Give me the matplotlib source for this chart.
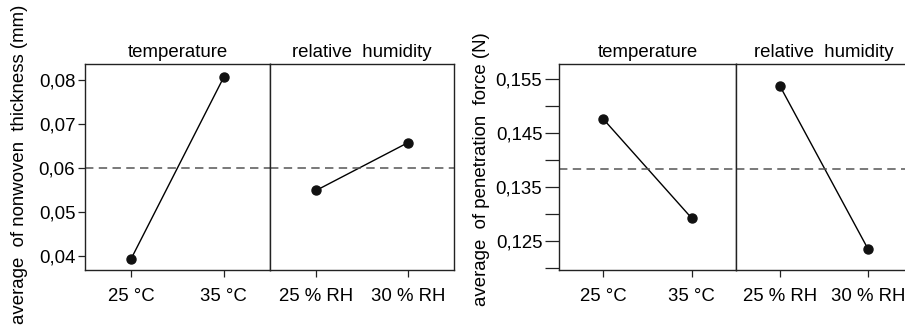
import numpy as np
import matplotlib.pyplot as plt
from matplotlib.ticker import FixedLocator, FuncFormatter

plt.rcParams['font.family'] = ['Liberation Sans', 'DejaVu Sans']

# factor levels
temp_levels = ['25 °C', '35 °C']
rh_levels = ['25 % RH', '30 % RH']

# main effects: nonwoven thickness (mm)
thick_temp = [0.0394, 0.0807]
thick_rh = [0.0549, 0.0658]
thick_mean = 0.0600

# main effects: penetration force (N)
force_temp = [0.1476, 0.1292]
force_rh = [0.1537, 0.1235]
force_mean = 0.1384

W, H = 905, 333
FS = 13.4


def comma(v, pos, nd):
    return ('%.*f' % (nd, v)).replace('.', ',')


def effects_plot(fig, x0, xmid, x1, series, levels, mean, ylim, ticks, labelled, nd,
                 ylabel, ylab_x, ylab_y, ytick_len):
    y0, y1 = 64, 270
    bottom = 1 - y1 / H
    height = (y1 - y0) / H
    axl = fig.add_axes([x0 / W, bottom, (xmid - x0) / W, height])
    axr = fig.add_axes([xmid / W, bottom, (x1 - xmid) / W, height], sharey=axl)
    for ax, vals, labs, title in zip([axl, axr], series, levels,
                                     ['temperature', 'relative  humidity']):
        ax.plot([0, 1], vals, color='black', lw=1.0, marker='o', ms=6.5, mfc='#111111', mec='#111111')
        ax.axhline(mean, color='#555555', lw=1.1, ls=(0, (5.5, 3.5)))
        ax.set_xlim(-0.5, 1.5)
        ax.set_xticks([0, 1])
        ax.set_xticklabels(labs, fontsize=FS)
        ax.set_title(title, fontsize=FS, pad=5)
        for s in ax.spines.values():
            s.set_color('#222222')
            s.set_linewidth(1.0)
        ax.tick_params(axis='x', length=5, width=0.9, pad=8, color='#222222')
    axl.set_ylim(*ylim)
    axl.yaxis.set_major_locator(FixedLocator(ticks))
    axl.yaxis.set_major_formatter(FuncFormatter(
        lambda v, p: comma(v, p, nd) if any(abs(v - t) < 1e-9 for t in labelled) else ''))
    axl.tick_params(axis='y', length=ytick_len, width=0.9, labelsize=FS, pad=2, color='#222222')
    axr.tick_params(axis='y', left=False, labelleft=False)
    fig.text(ylab_x / W, 1 - ylab_y / H, ylabel, rotation=90, ha='center', va='center', fontsize=FS)


fig = plt.figure(figsize=(W / 100, H / 100), dpi=100)

effects_plot(fig, 85, 270, 454, [thick_temp, thick_rh], [temp_levels, rh_levels], thick_mean,
             (0.0368, 0.0837), [0.04, 0.05, 0.06, 0.07, 0.08],
             [0.04, 0.05, 0.06, 0.07, 0.08], 2,
             'average  of nonwoven  thickness (mm)', 20, 164, 5)

force_ticks = [0.120, 0.125, 0.130, 0.135, 0.140, 0.145, 0.150, 0.155]
effects_plot(fig, 559, 736, 912, [force_temp, force_rh], [temp_levels, rh_levels], force_mean,
             (0.1196, 0.1578), force_ticks, [0.125, 0.135, 0.145, 0.155], 3,
             'average  of penetration  force (N)', 481, 169, 10)

fig.savefig('out.png', dpi=100)
